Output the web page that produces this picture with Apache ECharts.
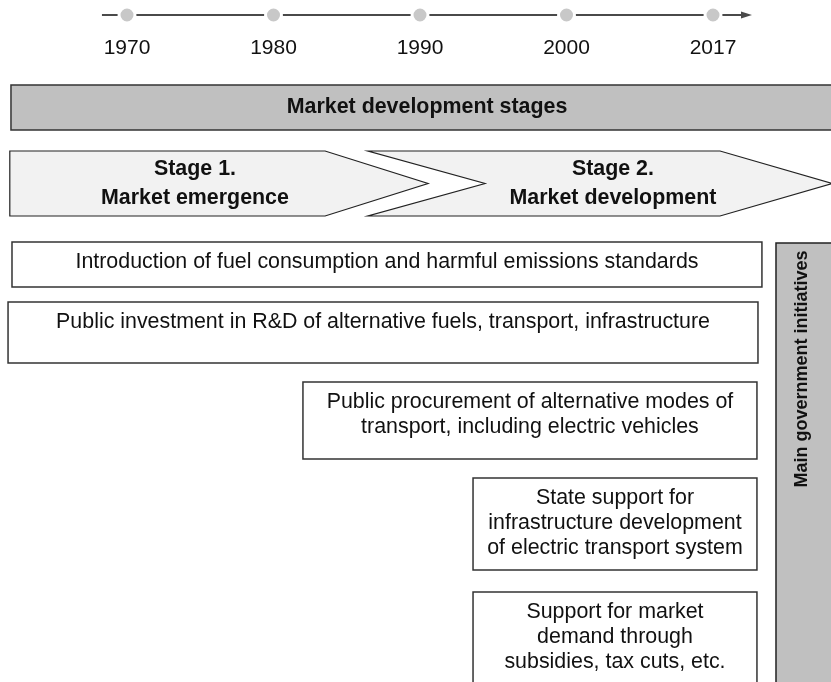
<!DOCTYPE html>
<html lang="en">
<head>
<meta charset="UTF-8">
<title>Market development stages and main government initiatives</title>
<script src="https://cdn.jsdelivr.net/npm/echarts@6/dist/echarts.min.js"></script>
<style>html, body { margin: 0; padding: 0; background: #fff; }</style>
</head>
<body>
<div id="chart" style="width: 831px; height: 682px;"></div>
<script>
// x is measured in timeline slots: 1970 = 0, 1980 = 1, ... 2017 = 4
var years = ['1970', '1980', '1990', '2000', '2017'];
var yearSlots = [0, 1, 2, 3, 4];
var timelineSpan = [-0.171, 4.266];

var headerText = 'Market development stages';
var headerSpan = [-0.792, 4.9];

var stageNames = ['Stage 1.\nMarket emergence', 'Stage 2.\nMarket development'];
// start, shoulder, tip, notch (null = flat start)
var stageSpans = [[-0.80, 1.352, 2.055, null], [1.645, 4.048, 4.812, 2.444]];
var stageLabelAt = [0.464, 3.317];

var initiatives = [
    'Introduction of fuel consumption and harmful emissions standards',
    'Public investment in R&D of alternative fuels, transport, infrastructure',
    'Public procurement of alternative modes of\ntransport, including electric vehicles',
    'State support for\ninfrastructure development\nof electric transport system',
    'Support for market\ndemand through\nsubsidies, tax cuts, etc.'
];
var initiativeSpans = [[-0.785, 4.334], [-0.812, 4.307], [1.201, 4.300], [2.362, 4.300], [2.362, 4.300]];

var sideTitle = 'Main government initiatives';
var sideSpan = [4.430, 4.9];

// vertical layout (rows, top to bottom)
var rowTimeline = 15;
var rowHeader = [85, 130];
var rowStages = [151, 216];
var rowInitiatives = [[242, 287], [302, 363], [382, 459], [478, 570], [592, 720]];
var rowSide = [243, 720];

var FONT = "'Liberation Sans', Arial, Helvetica, sans-serif";
var INK = '#111';
var EDGE = '#333';
var GREY = '#c0c0c0';

var chart = echarts.init(document.getElementById('chart'));

function timelineItem(params, api) {
    var a = api.coord([api.value(0), api.value(2)]);
    var b = api.coord([api.value(1), api.value(2)]);
    return {
        type: 'group',
        children: [
            { type: 'line', shape: { x1: a[0], y1: a[1], x2: b[0] - 9, y2: b[1] },
              style: { stroke: '#4a4a4a', lineWidth: 2.2 } },
            { type: 'polygon', shape: { points: [[b[0], b[1]], [b[0] - 11, b[1] - 3.5], [b[0] - 11, b[1] + 3.5]] },
              style: { fill: '#4a4a4a' } }
        ]
    };
}

function headerItem(params, api) {
    var p0 = api.coord([api.value(0), api.value(2)]);
    var p1 = api.coord([api.value(1), api.value(3)]);
    var c = api.coord([2.048, (api.value(2) + api.value(3)) / 2]);
    return {
        type: 'group',
        children: [
            { type: 'rect', shape: { x: p0[0], y: p0[1], width: p1[0] - p0[0], height: p1[1] - p0[1] },
              style: { fill: GREY, stroke: EDGE, lineWidth: 1.5 } },
            { type: 'text', x: c[0], y: c[1],
              style: { text: headerText, font: 'bold 21.4px ' + FONT, fill: INK, align: 'center', verticalAlign: 'middle' } }
        ]
    };
}

function stageItem(params, api) {
    var i = params.dataIndex;
    var s = stageSpans[i];
    var top = rowStages[0], bot = rowStages[1], mid = (top + bot) / 2;
    var pts = [[s[0], top], [s[1], top], [s[2], mid], [s[1], bot], [s[0], bot]];
    if (s[3] !== null) pts.push([s[3], mid]);
    pts = pts.map(function (p) { return api.coord(p); });
    var c = api.coord([stageLabelAt[i], mid]);
    return {
        type: 'group',
        children: [
            { type: 'polygon', shape: { points: pts },
              style: { fill: '#f2f2f2', stroke: '#222', lineWidth: 1.2 } },
            { type: 'text', x: c[0], y: c[1],
              style: { text: stageNames[i], font: 'bold 21.4px ' + FONT, fill: INK, align: 'center',
                       verticalAlign: 'middle', lineHeight: 29 } }
        ]
    };
}

function boxItem(params, api) {
    var i = params.dataIndex;
    var p0 = api.coord([api.value(0), api.value(2)]);
    var p1 = api.coord([api.value(1), api.value(3)]);
    return {
        type: 'group',
        children: [
            { type: 'rect', shape: { x: p0[0], y: p0[1], width: p1[0] - p0[0], height: p1[1] - p0[1] },
              style: { fill: '#fff', stroke: EDGE, lineWidth: 1.5 } },
            { type: 'text', x: (p0[0] + p1[0]) / 2, y: p0[1] + 7.5,
              style: { text: initiatives[i], font: '21.4px ' + FONT, fill: INK, align: 'center',
                       verticalAlign: 'top', lineHeight: 25 } }
        ]
    };
}

function sideItem(params, api) {
    var p0 = api.coord([api.value(0), api.value(2)]);
    var p1 = api.coord([api.value(1), api.value(3)]);
    var c = api.coord([4.608, 369]);
    return {
        type: 'group',
        children: [
            { type: 'rect', shape: { x: p0[0], y: p0[1], width: p1[0] - p0[0], height: p1[1] - p0[1] },
              style: { fill: GREY, stroke: '#222', lineWidth: 1.5 } },
            { type: 'text', x: c[0], y: c[1], rotation: Math.PI / 2,
              style: { text: sideTitle, font: 'bold 18px ' + FONT, fill: INK, align: 'center', verticalAlign: 'middle' } }
        ]
    };
}

chart.setOption({
    animation: false,
    grid: { left: 0, right: 0, top: 0, bottom: 0 },
    xAxis: { type: 'value', min: -127 / 146.5, max: 704 / 146.5, show: false },
    yAxis: { type: 'value', min: 0, max: 682, inverse: true, show: false },
    series: [
        {
            type: 'custom', renderItem: timelineItem, silent: true, clip: false,
            data: [[timelineSpan[0], timelineSpan[1], rowTimeline]]
        },
        {
            type: 'scatter', silent: true, z: 3,
            data: yearSlots.map(function (s) { return [s, rowTimeline]; }),
            symbolSize: 16,
            itemStyle: { color: '#c8c8c8', borderColor: '#fff', borderWidth: 3, opacity: 1 },
            label: {
                show: true, position: 'inside', offset: [0, 33],
                formatter: function (p) { return years[p.dataIndex]; },
                color: INK, fontSize: 21, fontFamily: FONT
            },
            emphasis: { disabled: true }
        },
        {
            type: 'custom', renderItem: headerItem, silent: true, clip: false,
            data: [[headerSpan[0], headerSpan[1], rowHeader[0], rowHeader[1]]]
        },
        {
            type: 'custom', renderItem: stageItem, silent: true, clip: false,
            data: stageSpans.map(function (s) { return [s[0], s[2]]; })
        },
        {
            type: 'custom', renderItem: boxItem, silent: true, clip: false,
            data: initiativeSpans.map(function (s, i) {
                return [s[0], s[1], rowInitiatives[i][0], rowInitiatives[i][1]];
            })
        },
        {
            type: 'custom', renderItem: sideItem, silent: true, clip: false,
            data: [[sideSpan[0], sideSpan[1], rowSide[0], rowSide[1]]]
        }
    ]
});
</script>
</body>
</html>
